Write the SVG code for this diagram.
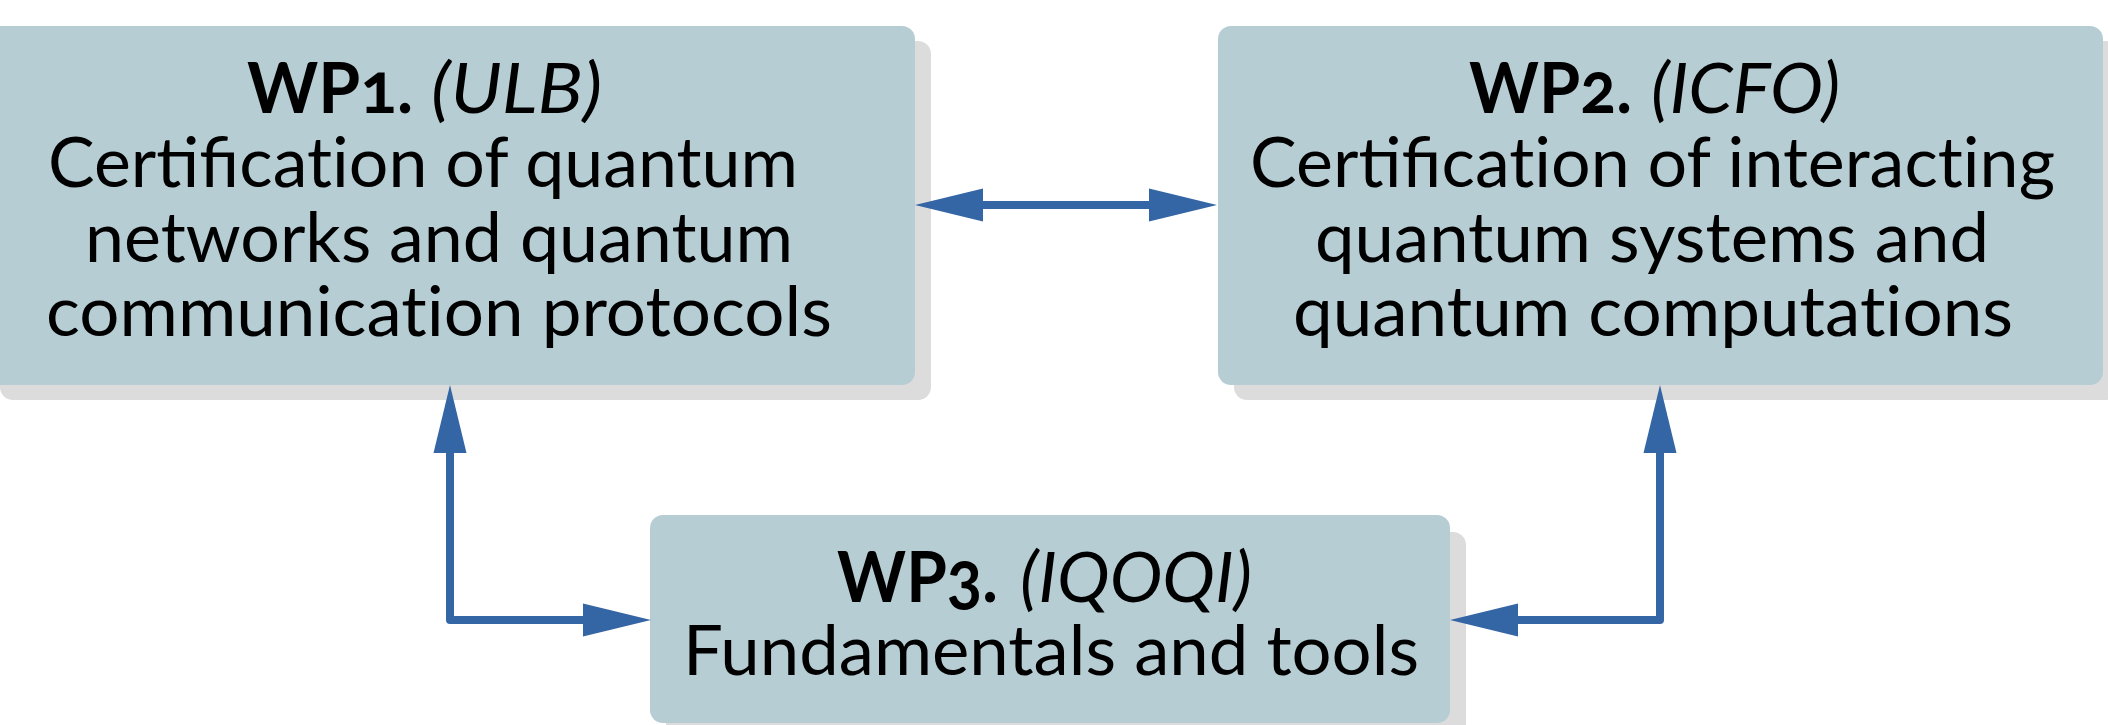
<svg xmlns="http://www.w3.org/2000/svg" width="2108" height="725" viewBox="0 0 2108 725">
  <style>
    .shadow { fill: #dcdcdc; }
    .box { fill: #b7cdd4; }
    .t { font-family: Lato, "Open Sans", "Liberation Sans", sans-serif; font-size: 70px; fill: #000; font-variant-numeric: oldstyle-nums; }
    .b { font-weight: bold; }
    .i { font-style: italic; }
    .link { fill: none; stroke: #3465a4; stroke-width: 8; stroke-linejoin: round; }
  </style>
  <defs>
    <marker id="head" viewBox="0 -17 68 34" markerWidth="68" markerHeight="34" refX="0" refY="0" markerUnits="userSpaceOnUse" orient="auto-start-reverse">
      <path d="M0,-16.5 L68,0 L0,16.5 Z" fill="#3465a4"/>
    </marker>
  </defs>

  <!-- zero-width non-joiners keep "t" and "i" as separate glyphs -->
  <g id="wp1">
    <rect class="shadow" x="0" y="41" width="931" height="359" rx="13"/>
    <rect class="box" x="-16" y="26" width="931" height="359" rx="13"/>
    <text class="t b" x="247" y="113" textLength="166" lengthAdjust="spacingAndGlyphs">WP1.</text>
    <text class="t i" x="431" y="113" textLength="171" lengthAdjust="spacingAndGlyphs">(ULB)</text>
    <text class="t" x="48" y="187" textLength="750" lengthAdjust="spacingAndGlyphs">Certificat&#x200C;ion of quantum</text>
    <text class="t" x="85" y="262" textLength="708" lengthAdjust="spacingAndGlyphs">networks and quantum</text>
    <text class="t" x="46" y="336" textLength="786" lengthAdjust="spacingAndGlyphs">communicat&#x200C;ion protocols</text>
  </g>

  <g id="wp2">
    <rect class="shadow" x="1234" y="41" width="885" height="359" rx="13"/>
    <rect class="box" x="1218" y="26" width="885" height="359" rx="13"/>
    <text class="t b" x="1469" y="113" textLength="163" lengthAdjust="spacingAndGlyphs">WP2.</text>
    <text class="t i" x="1651" y="113" textLength="189" lengthAdjust="spacingAndGlyphs">(ICFO)</text>
    <text class="t" x="1250" y="187" textLength="805" lengthAdjust="spacingAndGlyphs">Certificat&#x200C;ion of interact&#x200C;ing</text>
    <text class="t" x="1315" y="262" textLength="674" lengthAdjust="spacingAndGlyphs">quantum systems and</text>
    <text class="t" x="1293" y="336" textLength="720" lengthAdjust="spacingAndGlyphs">quantum computat&#x200C;ions</text>
  </g>

  <g id="wp3">
    <rect class="shadow" x="666" y="532" width="800" height="208" rx="13"/>
    <rect class="box" x="650" y="515" width="800" height="208" rx="13"/>
    <text class="t b" x="837" y="602" textLength="161" lengthAdjust="spacingAndGlyphs">WP3.</text>
    <text class="t i" x="1020" y="602" textLength="232" lengthAdjust="spacingAndGlyphs">(IQOQI)</text>
    <text class="t" x="683" y="675" textLength="736" lengthAdjust="spacingAndGlyphs">Fundamentals and tools</text>
  </g>

  <g id="connectors">
    <path class="link" d="M983,205 L1149,205" marker-start="url(#head)" marker-end="url(#head)"/>
    <path class="link" d="M450,453 L450,620 L583,620" marker-start="url(#head)" marker-end="url(#head)"/>
    <path class="link" d="M1518,620 L1660,620 L1660,453" marker-start="url(#head)" marker-end="url(#head)"/>
  </g>
</svg>
